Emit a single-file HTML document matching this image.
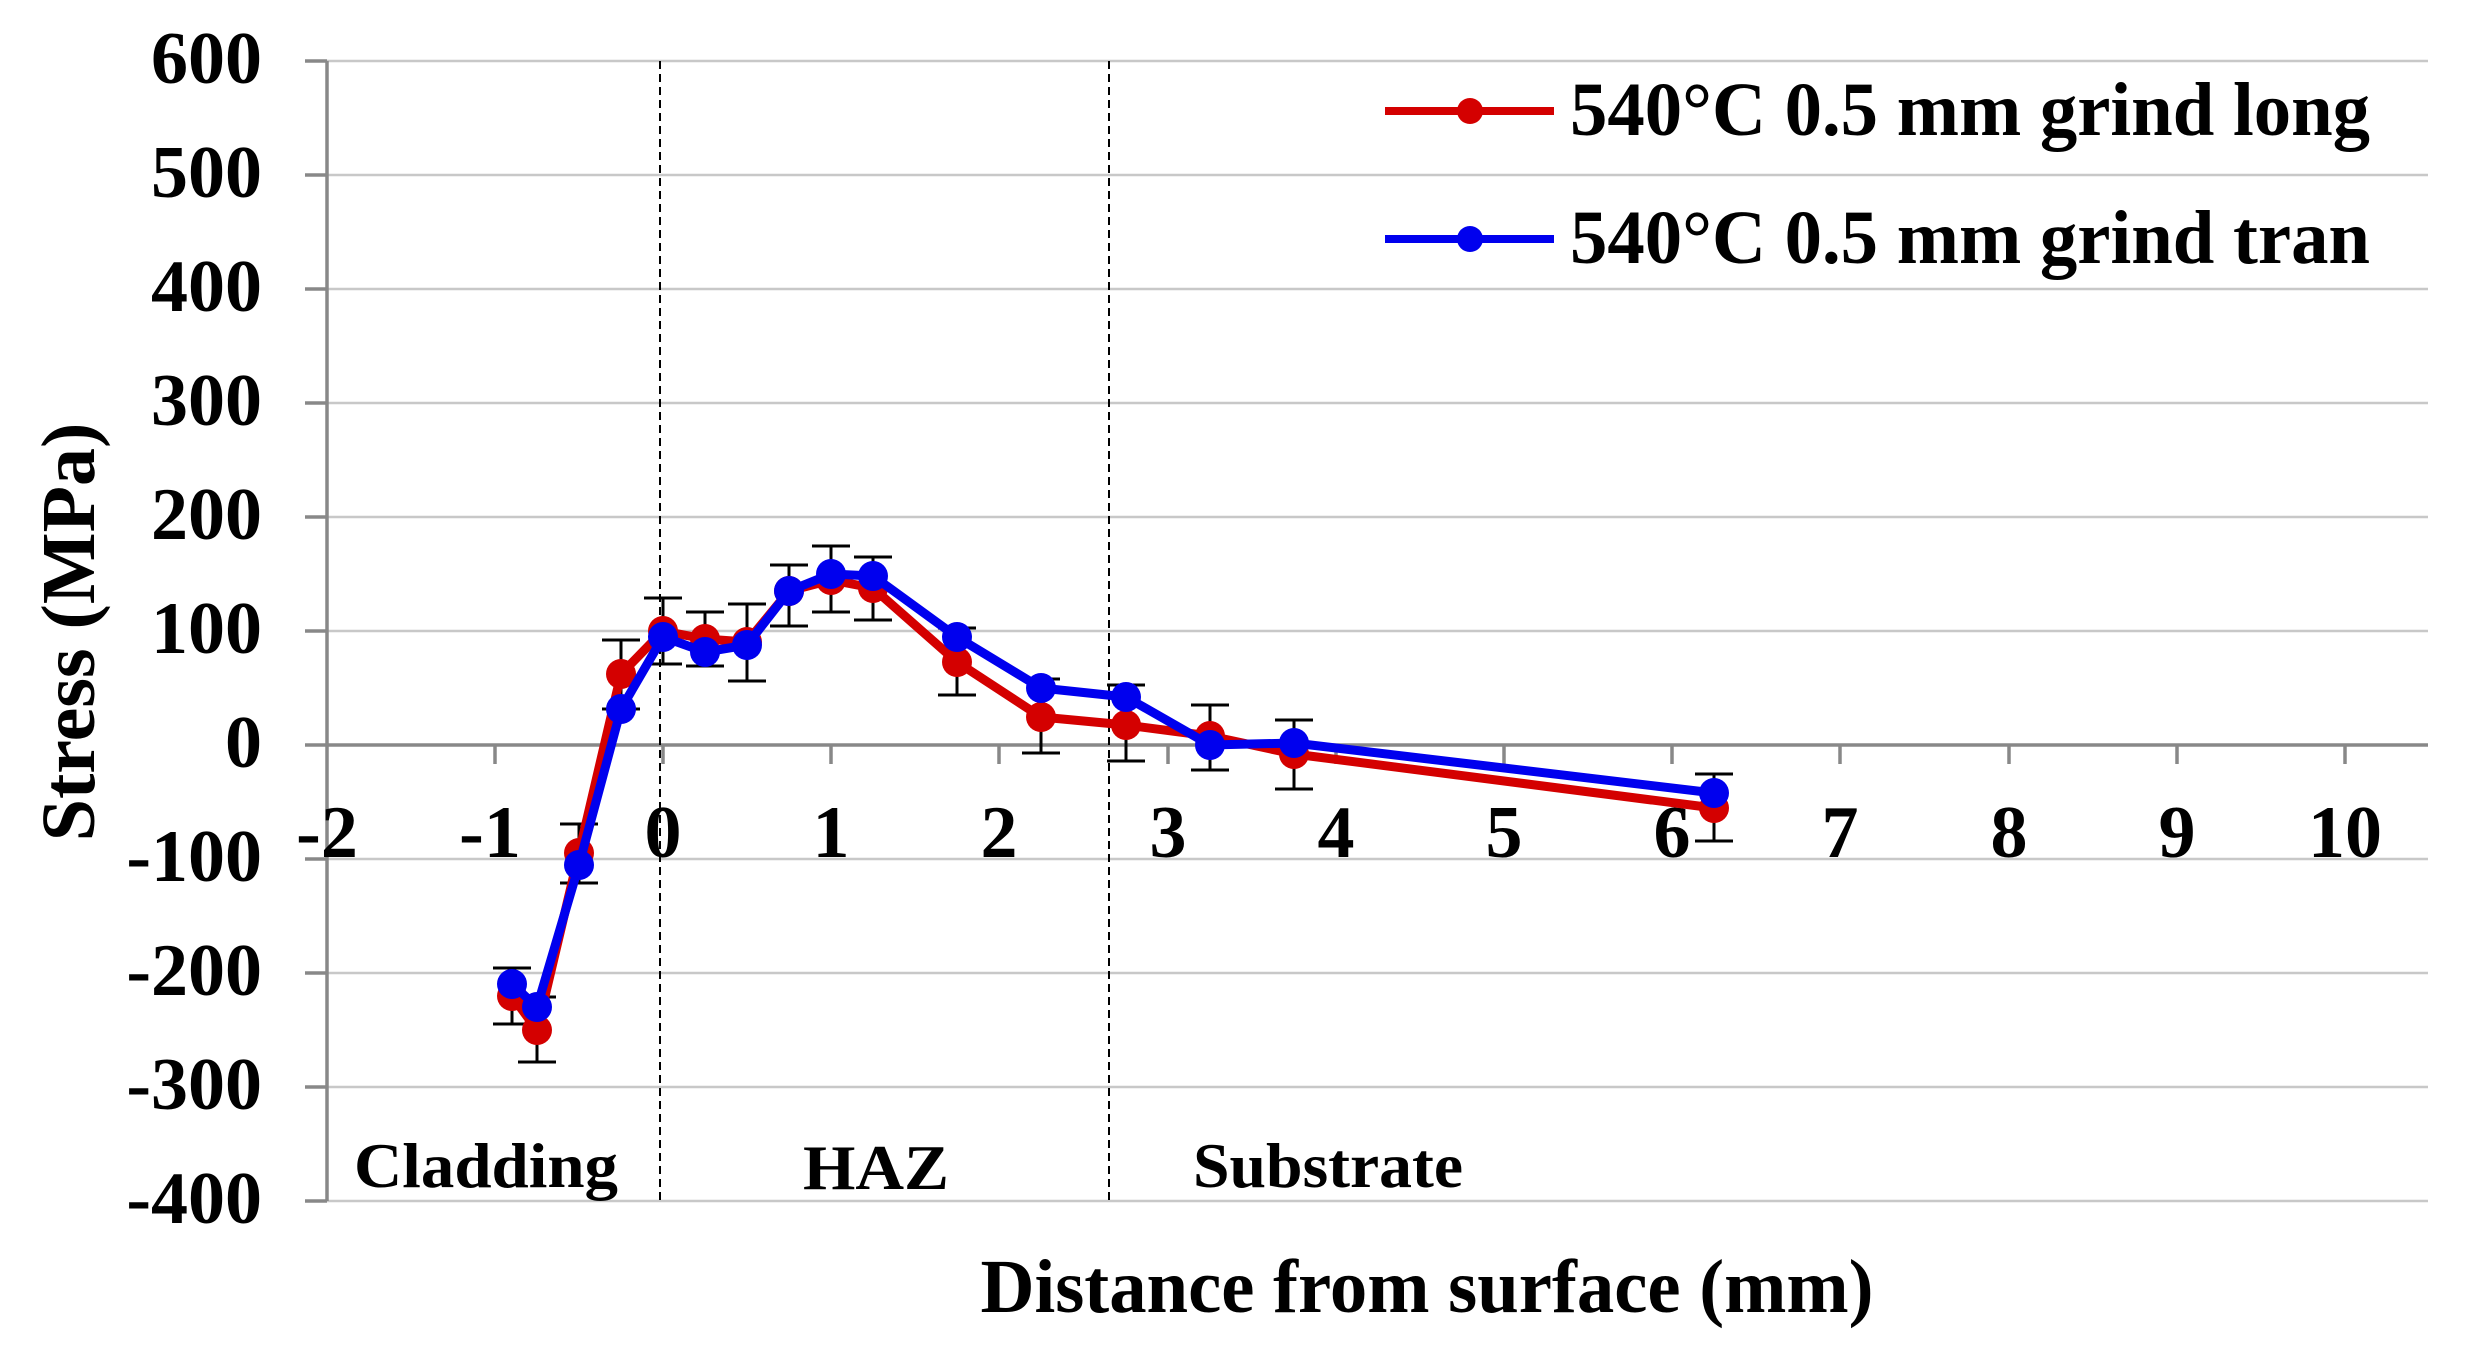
<!DOCTYPE html>
<html><head><meta charset="utf-8"><style>html,body{margin:0;padding:0;background:#fff}</style></head>
<body>
<svg width="2470" height="1340" xmlns="http://www.w3.org/2000/svg" font-family="Liberation Serif, serif" font-weight="bold">
<rect width="2470" height="1340" fill="#fff"/>
<g stroke="#c8c8c8" stroke-width="2.5">
<line x1="327" y1="61" x2="2428" y2="61"/><line x1="327" y1="175" x2="2428" y2="175"/>
<line x1="327" y1="289" x2="2428" y2="289"/><line x1="327" y1="403" x2="2428" y2="403"/>
<line x1="327" y1="517" x2="2428" y2="517"/><line x1="327" y1="631" x2="2428" y2="631"/>
<line x1="327" y1="859" x2="2428" y2="859"/><line x1="327" y1="973" x2="2428" y2="973"/>
<line x1="327" y1="1087" x2="2428" y2="1087"/><line x1="327" y1="1201" x2="2428" y2="1201"/>
</g>
<g stroke="#888" stroke-width="3.5">
<line x1="327" y1="61" x2="327" y2="1201"/>
<line x1="327" y1="745" x2="2428" y2="745"/>
<line x1="305" y1="61" x2="327" y2="61"/><line x1="305" y1="175" x2="327" y2="175"/><line x1="305" y1="289" x2="327" y2="289"/><line x1="305" y1="403" x2="327" y2="403"/><line x1="305" y1="517" x2="327" y2="517"/><line x1="305" y1="631" x2="327" y2="631"/><line x1="305" y1="745" x2="327" y2="745"/><line x1="305" y1="859" x2="327" y2="859"/><line x1="305" y1="973" x2="327" y2="973"/><line x1="305" y1="1087" x2="327" y2="1087"/><line x1="305" y1="1201" x2="327" y2="1201"/>
<line x1="495" y1="745" x2="495" y2="764"/><line x1="663" y1="745" x2="663" y2="764"/><line x1="831" y1="745" x2="831" y2="764"/><line x1="999" y1="745" x2="999" y2="764"/><line x1="1168" y1="745" x2="1168" y2="764"/><line x1="1336" y1="745" x2="1336" y2="764"/><line x1="1504" y1="745" x2="1504" y2="764"/><line x1="1672" y1="745" x2="1672" y2="764"/><line x1="1840" y1="745" x2="1840" y2="764"/><line x1="2009" y1="745" x2="2009" y2="764"/><line x1="2177" y1="745" x2="2177" y2="764"/><line x1="2345" y1="745" x2="2345" y2="764"/>
</g>
<g stroke="#000" stroke-width="2" stroke-dasharray="8,5">
<line x1="660" y1="61" x2="660" y2="1201"/><line x1="1109" y1="61" x2="1109" y2="1201"/>
</g>
<g font-size="74" fill="#000" text-anchor="end">
<text x="262" y="83">600</text><text x="262" y="197">500</text><text x="262" y="311">400</text><text x="262" y="425">300</text><text x="262" y="539">200</text><text x="262" y="653">100</text><text x="262" y="767">0</text><text x="262" y="881">-100</text><text x="262" y="995">-200</text><text x="262" y="1109">-300</text><text x="262" y="1223">-400</text>
</g>
<g font-size="74" fill="#000" text-anchor="middle">
<text x="327" y="857">-2</text><text x="490" y="857">-1</text><text x="663" y="857">0</text><text x="831" y="857">1</text><text x="999" y="857">2</text><text x="1168" y="857">3</text><text x="1336" y="857">4</text><text x="1504" y="857">5</text><text x="1672" y="857">6</text><text x="1840" y="857">7</text><text x="2009" y="857">8</text><text x="2177" y="857">9</text><text x="2345" y="857">10</text>
</g>
<text x="0" y="0" font-size="76" text-anchor="middle" transform="translate(94,632) rotate(-90)">Stress (MPa)</text>
<text x="1427" y="1312" font-size="76" text-anchor="middle" textLength="893" lengthAdjust="spacingAndGlyphs">Distance from surface (mm)</text>
<text x="354" y="1187" font-size="64" textLength="264" lengthAdjust="spacingAndGlyphs">Cladding</text>
<text x="803" y="1189" font-size="64" textLength="146" lengthAdjust="spacingAndGlyphs">HAZ</text>
<text x="1193" y="1187" font-size="64" textLength="270" lengthAdjust="spacingAndGlyphs">Substrate</text>
<line x1="1385" y1="111" x2="1554" y2="111" stroke="#d40000" stroke-width="8"/><circle cx="1470" cy="111" r="13" fill="#d40000"/>
<line x1="1385" y1="239" x2="1554" y2="239" stroke="#0000ee" stroke-width="8"/><circle cx="1470" cy="239" r="13" fill="#0000ee"/>
<text x="1570" y="135" font-size="76" textLength="800" lengthAdjust="spacingAndGlyphs">540°C 0.5 mm grind long</text>
<text x="1570" y="263" font-size="76" textLength="800" lengthAdjust="spacingAndGlyphs">540°C 0.5 mm grind tran</text>
<g stroke="#000" stroke-width="3" fill="none">
<path d="M512,968V1024M493,968h38M493,1024h38 M537,997V1062M518,997h38M518,1062h38 M579,824V883M560,824h38M560,883h38 M621,640V709M602,640h38M602,709h38 M663,598V664M644,598h38M644,664h38 M705,612V666M686,612h38M686,666h38 M747,604V681M728,604h38M728,681h38 M789,565V626M770,565h38M770,626h38 M831,546V612M812,546h38M812,612h38 M873,557V620M854,557h38M854,620h38 M957,628V695M938,628h38M938,695h38 M1041,679V753M1022,679h38M1022,753h38 M1126,685V761M1107,685h38M1107,761h38 M1210,705V770M1191,705h38M1191,770h38 M1294,720V789M1275,720h38M1275,789h38 M1714,774V841M1695,774h38M1695,841h38"/>
</g>
<polyline fill="none" stroke="#d40000" stroke-width="9" stroke-linejoin="round" points="512,996 537,1030 579,853 621,674 663,631 705,639 747,642 789,591 831,580 873,588 957,662 1041,717 1126,725 1210,736 1294,754 1714,808"/>
<g fill="#d40000"><circle cx="512" cy="996" r="15"/><circle cx="537" cy="1030" r="15"/><circle cx="579" cy="853" r="15"/><circle cx="621" cy="674" r="15"/><circle cx="663" cy="631" r="15"/><circle cx="705" cy="639" r="15"/><circle cx="747" cy="642" r="15"/><circle cx="789" cy="591" r="15"/><circle cx="831" cy="580" r="15"/><circle cx="873" cy="588" r="15"/><circle cx="957" cy="662" r="15"/><circle cx="1041" cy="717" r="15"/><circle cx="1126" cy="725" r="15"/><circle cx="1210" cy="736" r="15"/><circle cx="1294" cy="754" r="15"/><circle cx="1714" cy="808" r="15"/></g>
<polyline fill="none" stroke="#0000ee" stroke-width="9" stroke-linejoin="round" points="512,984 537,1007 579,865 621,709 663,637 705,652 747,645 789,591 831,574 873,576 957,637 1041,688 1126,697 1210,745 1294,743 1714,793"/>
<g fill="#0000ee"><circle cx="512" cy="984" r="15"/><circle cx="537" cy="1007" r="15"/><circle cx="579" cy="865" r="15"/><circle cx="621" cy="709" r="15"/><circle cx="663" cy="637" r="15"/><circle cx="705" cy="652" r="15"/><circle cx="747" cy="645" r="15"/><circle cx="789" cy="591" r="15"/><circle cx="831" cy="574" r="15"/><circle cx="873" cy="576" r="15"/><circle cx="957" cy="637" r="15"/><circle cx="1041" cy="688" r="15"/><circle cx="1126" cy="697" r="15"/><circle cx="1210" cy="745" r="15"/><circle cx="1294" cy="743" r="15"/><circle cx="1714" cy="793" r="15"/></g>
</svg>
</body></html>
